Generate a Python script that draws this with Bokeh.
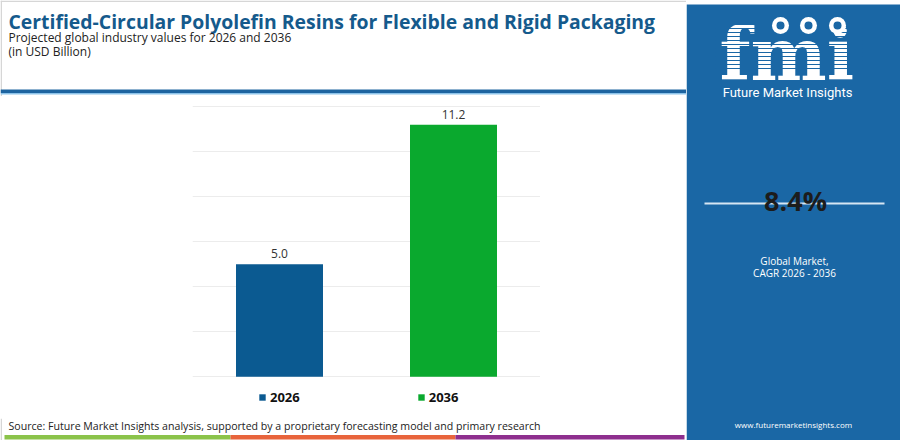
from bokeh.plotting import figure
from bokeh.models import (Range1d, FactorRange, ColumnDataSource, LabelSet, Label, Spacer,
                          BoxAnnotation, Legend, LegendItem, SingleIntervalTicker)
from bokeh.core.properties import value
from bokeh.layouts import row, column
from bokeh.embed import file_html
from bokeh.resources import INLINE

# ---- data ----
years = ["2026", "2036"]
values = [5.0, 11.2]
bar_colors = ["#0b5a91", "#0aa92e"]
cagr = "8.4%"

title_text = "Certified-Circular Polyolefin Resins for Flexible and Rigid Packaging"
subtitle_text = "Projected global industry values for 2026 and 2036"
unit_text = "(in USD Billion)"
source_text = ("Source: Future Market Insights analysis, supported by a proprietary "
               "forecasting model and primary research")

FONT = "Open Sans"
PANEL = "#1a67a5"


def deco_fig(w, h, x0, x1, ytop, ybot, bg="white"):
    f = figure(width=w, height=h, x_range=Range1d(x0, x1), y_range=Range1d(ybot, ytop),
               output_backend="svg", toolbar_location=None, title=None, min_border=0)
    f.xaxis.visible = False
    f.yaxis.visible = False
    f.xgrid.visible = False
    f.ygrid.visible = False
    f.outline_line_color = None
    f.background_fill_color = bg
    f.border_fill_color = bg
    return f


def add_label(f, x, y, text, size, color="#222222", style="normal", align="left",
              font=FONT, baseline="middle", level="overlay"):
    f.add_layout(Label(x=x, y=y, text=text, text_font=font, text_font_size=size,
                       text_color=color, text_font_style=style, text_align=align,
                       text_baseline=baseline, level=level))


def add_box(f, l, r, t, b, color, level="annotation"):
    f.add_layout(BoxAnnotation(left=l, right=r, top=t, bottom=b, fill_color=color,
                               fill_alpha=1, line_color=None, level=level))


# ---- header (page y 0..96) ----
head = deco_fig(686, 96, 0, 686, 0, 96)
add_box(head, 0, 686, 0, 1.5, "#d6d6d6")
add_box(head, 0, 1.5, 0, 96, "#d6d6d6")
add_label(head, 8, 21, title_text, "19.4px", "#155a8c", "bold")
add_label(head, 8, 37, subtitle_text, "12px")
add_label(head, 8, 51, unit_text, "12px")
add_box(head, 0, 686, 89, 92.5, "#1d64a0")
add_box(head, 0, 686, 92.5, 94, "#8cc3ea")

# ---- chart (page y 96..418; value 0 at y 376, value 12 at y 106) ----
p = figure(width=348, height=322, x_range=FactorRange(*years), y_range=Range1d(-1.5, 12.05),
           output_backend="svg", toolbar_location=None, title=None,
           min_border_left=0, min_border_right=0, min_border_top=9, min_border_bottom=8)
p.xaxis.visible = False
p.yaxis.visible = False
p.outline_line_color = None
p.background_fill_color = "white"
p.border_fill_color = "white"
p.xgrid.grid_line_color = None
p.ygrid.ticker = SingleIntervalTicker(interval=2)
p.ygrid.grid_line_color = "#ececec"
p.ygrid.grid_line_width = 1

src = ColumnDataSource(dict(year=years, value=values, color=bar_colors,
                            label=[f"{v:.1f}" for v in values]))
bars = p.vbar(x="year", top="value", width=0.5, fill_color="color", line_color=None, source=src)

p.add_layout(LabelSet(x="year", y="value", text="label", source=src, y_offset=6,
                      text_align="center", text_baseline="bottom", text_font=value(FONT),
                      text_font_size=value("12px"), text_color=value("#333333")))

legend = Legend(items=[LegendItem(label=years[i], renderers=[bars], index=i) for i in range(len(years))],
                orientation="horizontal", location=(66, 4), padding=0, margin=0,
                spacing=117, glyph_width=8, glyph_height=8, label_standoff=4,
                label_height=8, border_line_color=None, background_fill_alpha=0,
                label_text_font=FONT, label_text_font_style="bold",
                label_text_font_size="13px", label_text_color="#111111")
p.add_layout(legend)

# ---- footer (page y 418..440) ----
foot = deco_fig(686, 22, 0, 686, 418, 440)
add_box(foot, 0, 1.5, 418, 440, "#d6d6d6")
add_label(foot, 8, 425, source_text, "10.6px")
add_box(foot, 4, 230, 434.5, 439, "#8bc34a")
add_box(foot, 230, 455, 434.5, 439, "#e8643c")
add_box(foot, 455, 684, 434.5, 439, "#8e2f8e")

# ---- right panel (page x 686..900) ----
q = deco_fig(214, 440, 686, 900, 0, 440)
add_box(q, 686, 900, 4, 440, PANEL, level="underlay")

add_label(q, 719, 54, "fmi", "72px", "white", "bold", "left", "DejaVu Serif", "alphabetic",
          level="underlay")
stripe_y = [24, 28, 32, 36, 40, 44, 48, 52, 56, 60, 64, 68]
q.segment(x0=[715] * len(stripe_y), x1=[862] * len(stripe_y), y0=stripe_y, y1=stripe_y,
          line_color=PANEL, line_width=1.1)
q.scatter(x=[780, 808, 837], y=[25, 25, 25], size=17, fill_color="white", line_color=None)
q.scatter(x=[780, 808, 837], y=[25, 25, 25], size=8, fill_color=PANEL, line_color=None)
add_label(q, 787, 92, "Future Market Insights", "13px", "white", "normal", "center", "Roboto")

q.segment(x0=[704], x1=[884], y0=[203], y1=[203], line_color="#d6e6f3", line_width=2)
add_label(q, 795, 200, cagr, "27px", "#1c1c1c", "bold", "center")
add_label(q, 794, 260, "Global Market,", "10px", "white", align="center")
add_label(q, 794, 272, "CAGR 2026 - 2036", "10px", "white", align="center")
add_label(q, 793, 424, "www.futuremarketinsights.com", "8px", "white", align="center")

middle = row(Spacer(width=192, height=322), p, Spacer(width=146, height=322), spacing=0)
layout = row(column(head, middle, foot, spacing=0), q, spacing=0)
open("out.html", "w").write(file_html(layout, INLINE))
